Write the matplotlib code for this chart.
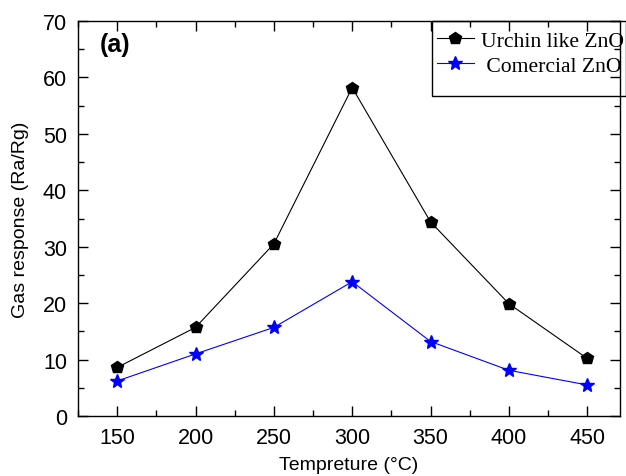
import matplotlib
matplotlib.use("Agg")
import matplotlib.pyplot as plt
from matplotlib.patches import Rectangle
from matplotlib.ticker import MultipleLocator

temps = [150, 200, 250, 300, 350, 400, 450]
urchin = [8.6, 15.7, 30.5, 58.2, 34.4, 19.9, 10.2]
commercial = [6.2, 11.0, 15.7, 23.8, 13.2, 8.1, 5.5]

plt.rcParams['font.family'] = ['Liberation Sans', 'DejaVu Sans']

fig = plt.figure(figsize=(6.26, 4.77), dpi=100)
ax = fig.add_axes([0.1246, 0.1258, 0.866, 0.828])

ax.plot(temps, urchin, color='black', marker='p', markersize=9, lw=0.8, label='Urchin like ZnO')
ax.plot(temps, commercial, color='blue', marker='*', markersize=10, lw=0.8, label=' Comercial ZnO')

ax.set_xlim(125, 471)
ax.set_ylim(0, 70)
ax.xaxis.set_major_locator(MultipleLocator(50))
ax.xaxis.set_minor_locator(MultipleLocator(25))
ax.yaxis.set_major_locator(MultipleLocator(10))
ax.yaxis.set_minor_locator(MultipleLocator(5))
ax.tick_params(which='both', direction='in', top=True, right=True, labelsize=15.5, width=1)
ax.tick_params(which='major', length=7, pad=8)
ax.tick_params(which='minor', length=4)
for s in ax.spines.values():
    s.set_linewidth(1)

ax.set_xlabel('Tempreture (°C)', fontsize=14, labelpad=6)
ax.set_ylabel('Gas response (Ra/Rg)', fontsize=14, labelpad=10)
ax.text(0.04, 0.925, '(a)', transform=ax.transAxes, fontsize=18, fontweight='bold')

# legend box drawn by hand, it sticks out past the right spine
ax.add_patch(Rectangle((0.653, 0.81), 0.358, 0.19, transform=ax.transAxes,
                       fill=False, edgecolor='black', lw=1, clip_on=False))
ax.legend(loc='upper left', bbox_to_anchor=(0.662, 0.975), frameon=False,
          prop={'family': 'Liberation Serif', 'size': 15.6}, handlelength=1.7,
          handletextpad=0.33, labelspacing=0.2, borderaxespad=0, borderpad=0)

fig.savefig('out.png', dpi=100)
